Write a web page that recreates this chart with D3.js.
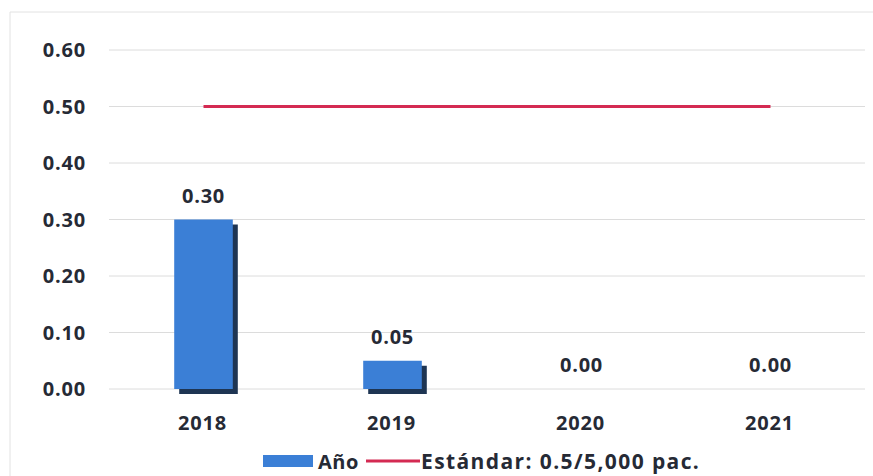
<!DOCTYPE html>
<html lang="es">
<head>
<meta charset="UTF-8">
<title>Indicador</title>
<script src="https://d3js.org/d3.v7.min.js"></script>
<style>
  html, body { margin: 0; background: #fff; }
  svg text { font-family: "Open Sans", "Noto Sans", sans-serif; font-weight: 700; fill: #262a35; }
</style>
</head>
<body>
<div id="chart"></div>
<script>
const years = ["2018", "2019", "2020", "2021"];
const values = [0.30, 0.05, 0.00, 0.00];
const standard = [0.5, 0.5, 0.5, 0.5];
const yTicks = [0, 0.1, 0.2, 0.3, 0.4, 0.5, 0.6];
const legendLabels = ["Año", "Estándar: 0.5/5,000 pac."];

const width = 873, height = 476;
const svg = d3.select("#chart").append("svg")
  .attr("width", width).attr("height", height);

// frame of the chart area
svg.append("line").attr("x1", 10).attr("x2", width).attr("y1", 12).attr("y2", 12)
  .attr("stroke", "#e2e2e2");
svg.append("line").attr("x1", 10).attr("x2", 10).attr("y1", 12).attr("y2", height)
  .attr("stroke", "#e2e2e2");

const x = d3.scaleBand().domain(years).range([109, 865]);
const y = d3.scaleLinear().domain([0, 0.6]).range([389, 50]);
const barW = x.bandwidth() * 0.31;

// gridlines + y labels
svg.selectAll(".grid").data(yTicks).enter().append("line")
  .attr("x1", 109).attr("x2", 865)
  .attr("y1", d => y(d)).attr("y2", d => y(d))
  .attr("stroke", "#dcdcdc");
svg.selectAll(".ylab").data(yTicks).enter().append("text")
  .attr("x", 86).attr("y", d => y(d)).attr("dy", "0.36em")
  .attr("text-anchor", "end").attr("font-size", 20).attr("letter-spacing", 0.8)
  .text(d => d3.format(".2f")(d));

// bars with shadow
const data = years.map((yr, i) => ({ yr, v: values[i] }));
svg.selectAll(".shadow").data(data.filter(d => d.v > 0)).enter().append("rect")
  .attr("x", d => x(d.yr) + (x.bandwidth() - barW) / 2 + 5)
  .attr("y", d => y(d.v) + 5)
  .attr("width", barW).attr("height", d => y(0) - y(d.v))
  .attr("fill", "#1e3553");
svg.selectAll(".bar").data(data.filter(d => d.v > 0)).enter().append("rect")
  .attr("x", d => x(d.yr) + (x.bandwidth() - barW) / 2)
  .attr("y", d => y(d.v))
  .attr("width", barW).attr("height", d => y(0) - y(d.v))
  .attr("fill", "#3b7fd6");

// value labels
svg.selectAll(".vlab").data(data).enter().append("text")
  .attr("x", d => x(d.yr) + x.bandwidth() / 2)
  .attr("y", d => y(d.v) - 17)
  .attr("text-anchor", "middle").attr("font-size", 20).attr("letter-spacing", 0.8)
  .text(d => d3.format(".2f")(d.v));

// standard line
const line = d3.line().x((d, i) => x(years[i]) + x.bandwidth() / 2).y(d => y(d));
svg.append("path").datum(standard).attr("d", line)
  .attr("fill", "none").attr("stroke", "#d42a52").attr("stroke-width", 3);

// x labels
svg.selectAll(".xlab").data(years).enter().append("text")
  .attr("x", d => x(d) + x.bandwidth() / 2 - 1).attr("y", 430)
  .attr("text-anchor", "middle").attr("font-size", 20).attr("letter-spacing", 0.8)
  .text(d => d);

// legend
svg.append("rect").attr("x", 263).attr("y", 455).attr("width", 50).attr("height", 12)
  .attr("fill", "#3b7fd6");
svg.append("text").attr("x", 318).attr("y", 469).attr("font-size", 20)
  .attr("letter-spacing", 0.5).text(legendLabels[0]);
svg.append("line").attr("x1", 366).attr("x2", 420).attr("y1", 461).attr("y2", 461)
  .attr("stroke", "#d42a52").attr("stroke-width", 3);
svg.append("text").attr("x", 421).attr("y", 469).attr("font-size", 21)
  .attr("letter-spacing", 1.4).text(legendLabels[1]);
</script>
</body>
</html>
